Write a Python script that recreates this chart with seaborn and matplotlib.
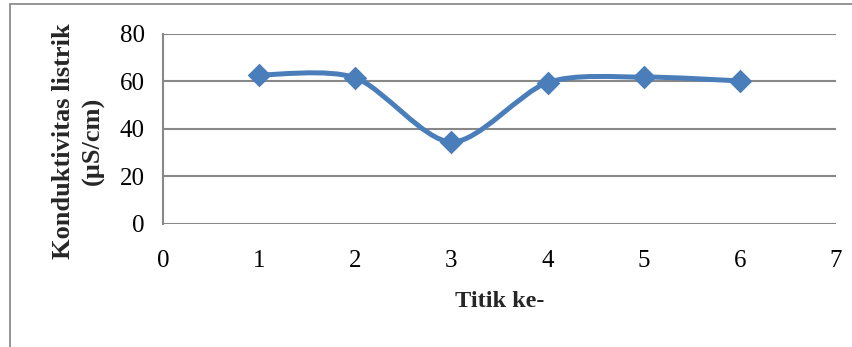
import numpy as np
import pandas as pd
import matplotlib
matplotlib.use("Agg")
import matplotlib.pyplot as plt
from matplotlib.path import Path
from matplotlib.patches import PathPatch, Rectangle
import seaborn as sns

# Conductivity measured at each sampling point
titik = [1, 2, 3, 4, 5, 6]
konduktivitas = [62.7, 61.5, 34.4, 59.5, 61.8, 60.2]

x_ticks = [0, 1, 2, 3, 4, 5, 6, 7]
y_ticks = [0, 20, 40, 60, 80]

BLUE = "#4a7ebb"
GRID = "#888888"

sns.set_theme(style="white")
plt.rcParams["font.family"] = ["Liberation Serif", "DejaVu Serif"]

df = pd.DataFrame({"titik": titik, "konduktivitas": konduktivitas})

fig = plt.figure(figsize=(8.53, 3.47), dpi=100)
ax = fig.add_axes([163 / 853, 1 - 223.5 / 347, (836 - 163) / 853, (223.5 - 34) / 347])

# Outer chart frame
fig.patches.append(Rectangle((10 / 853, -0.05), 1.2, 1 - 4 / 347 + 0.05,
                             transform=fig.transFigure, fill=False,
                             edgecolor="#8c8c8c", linewidth=1.3, zorder=0))

# Smoothed connecting line (cubic Bezier segments, Catmull-Rom style tangents)
pts = np.column_stack([df["titik"], df["konduktivitas"]]).astype(float)
n = len(pts)
verts = [tuple(pts[0])]
codes = [Path.MOVETO]
k = 1.0 / 7.0
for i in range(n - 1):
    p0 = pts[max(i - 1, 0)]
    p1 = pts[i]
    p2 = pts[i + 1]
    p3 = pts[min(i + 2, n - 1)]
    c1 = p1 + (p2 - p0) * k
    c2 = p2 - (p3 - p1) * k
    verts += [tuple(c1), tuple(c2), tuple(p2)]
    codes += [Path.CURVE4] * 3
ax.add_patch(PathPatch(Path(verts, codes), facecolor="none", edgecolor=BLUE,
                       linewidth=3.6, capstyle="round", joinstyle="round", zorder=3))

sns.scatterplot(data=df, x="titik", y="konduktivitas", marker="D", s=145,
                color=BLUE, edgecolor=BLUE, linewidth=0, zorder=4, ax=ax)

ax.set_xlim(0, 7)
ax.set_ylim(0, 80)
ax.set_xticks(x_ticks)
ax.set_yticks(y_ticks)
ax.tick_params(axis="both", length=0, labelsize=18, colors="black")
ax.tick_params(axis="x", pad=19)
ax.tick_params(axis="y", pad=13)

for v in y_ticks:
    ax.axhline(v, color=GRID, linewidth=1.5, zorder=1)

for side in ["top", "right", "bottom"]:
    ax.spines[side].set_visible(False)
ax.spines["left"].set_color(GRID)
ax.spines["left"].set_linewidth(1.5)

ax.set_xlabel("Titik ke-", fontsize=17.5, fontweight="bold", labelpad=14)
ax.set_ylabel("Konduktivitas listrik\n(µS/cm)", fontsize=19, fontweight="bold",
              linespacing=1.35)
ax.yaxis.set_label_coords(-0.087, 0.435)

fig.savefig("out.png", dpi=100, facecolor="white")
